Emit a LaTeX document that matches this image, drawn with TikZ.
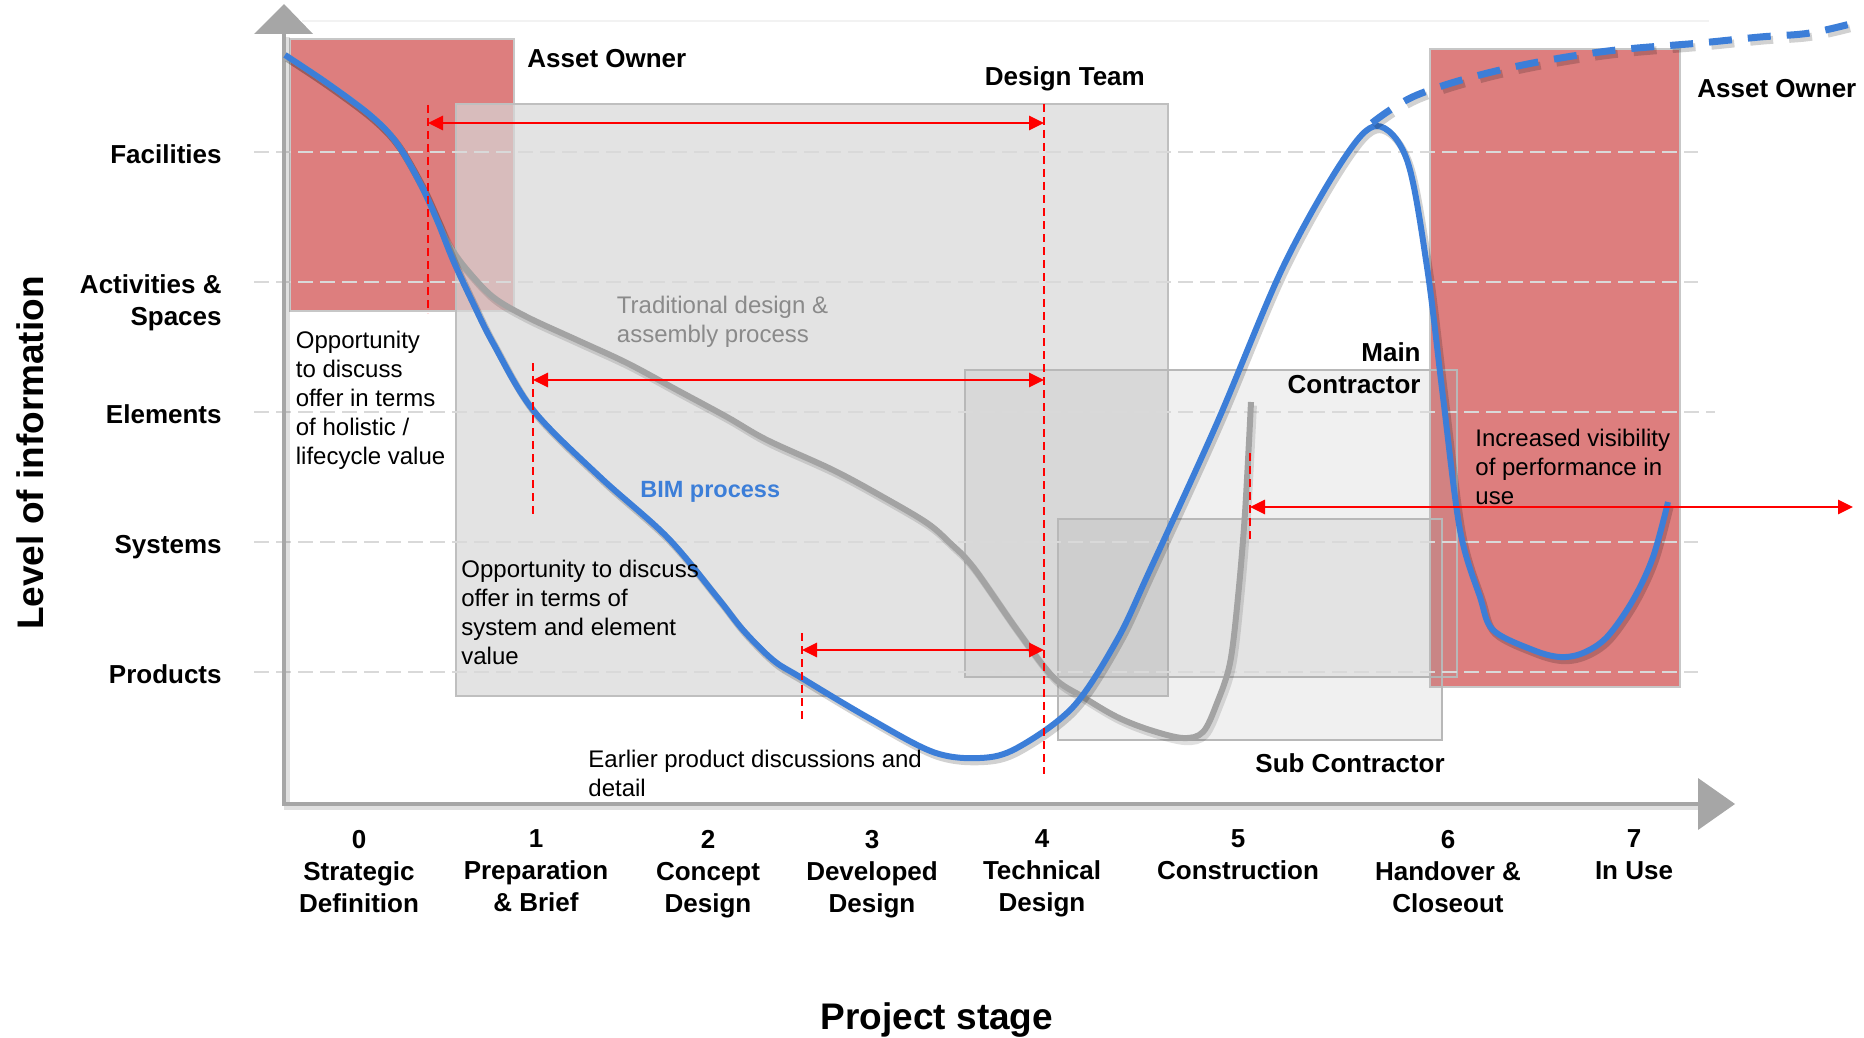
\documentclass[tikz,border=0pt]{standalone}
\usepackage{fontspec}
\setmainfont{Liberation Sans}
\usetikzlibrary{arrows.meta}
\usetikzlibrary{calc}

\definecolor{ownerRed}{RGB}{221,126,126}
\definecolor{teamGray}{RGB}{215,215,215}
\definecolor{gridGray}{RGB}{217,217,217}
\definecolor{axisGray}{RGB}{166,166,166}
\definecolor{tradGray}{RGB}{163,163,163}
\definecolor{bimBlue}{RGB}{60,126,216}
\definecolor{noteGray}{RGB}{138,138,138}

\begin{document}
\begin{tikzpicture}[x=0.5pt,y=-0.5pt]

\tikzstyle{ownerBox}=[fill=ownerRed,draw=black!22,line width=0.8pt];
\tikzstyle{teamBox}=[fill=teamGray,fill opacity=0.7,draw=black!25,line width=0.8pt];
\tikzstyle{tradeBox}=[fill=black!40,fill opacity=0.15,draw=black!28,line width=0.8pt];
\tikzstyle{gridLine}=[gridGray,line width=1pt,dash pattern=on 7.5pt off 3.5pt];
\tikzstyle{axisLine}=[axisGray,line width=2.25pt,preaction={draw=black,opacity=0.12,line width=3pt,transform canvas={xshift=1.5pt,yshift=-1.5pt}}];
\tikzstyle{bimCurve}=[bimBlue,line width=3pt,preaction={draw=black,opacity=0.18,line width=3.5pt,transform canvas={xshift=1.2pt,yshift=-1.8pt}}];
\tikzstyle{bimDashed}=[bimBlue,line width=3.5pt,dash pattern=on 11.5pt off 8pt,preaction={draw=black,opacity=0.18,line width=4pt,dash pattern=on 11.5pt off 8pt,transform canvas={xshift=1.2pt,yshift=-1.8pt}}];
\tikzstyle{tradCurve}=[tradGray,line width=3pt,preaction={draw=black,opacity=0.12,line width=3.5pt,transform canvas={xshift=1.2pt,yshift=-1.8pt}}];
\tikzstyle{markLine}=[red,line width=0.75pt,dash pattern=on 4pt off 2.5pt];
\tikzstyle{redArrow}=[red,line width=1.4pt,{Triangle[length=7.5pt,width=7pt]}-{Triangle[length=7.5pt,width=7pt]}];
\tikzstyle{levelLabel}=[font=\fontsize{13pt}{16pt}\selectfont\bfseries,inner sep=0pt];
\tikzstyle{stageLabel}=[levelLabel,align=center,anchor=north];
\tikzstyle{roleLabel}=[levelLabel,anchor=base west];
\tikzstyle{noteText}=[font=\fontsize{12pt}{14.5pt}\selectfont,align=left,anchor=north west,inner sep=0pt];
\tikzstyle{axisTitle}=[font=\fontsize{18.5pt}{22pt}\selectfont\bfseries,inner sep=0pt];

\useasboundingbox (0,0) rectangle (1864,1038);

% boxes
\draw [ownerBox] (290,39) rectangle (514,311);
\draw [teamBox] (456,104) rectangle (1168,696);
\draw [ownerBox] (1430,49) rectangle (1680,687);
\draw [tradeBox] (965,370) rectangle (1457,677);
\draw [tradeBox] (1058,519) rectangle (1442,740);

% level grid
\draw [black!5,line width=0.8pt] (302,21) -- (1709,21);
\foreach \y in {152,282,542,672}{
	\draw [gridLine] (254,\y) -- (1698,\y);
};
\draw [gridLine] (254,412) -- (1715,412);

% axes
\draw [axisLine] (284,34) -- (284,804) -- (1698,804);
\fill [axisGray] (254,34) -- (313,34) -- (284,4) -- cycle;
\fill [axisGray] (1698,778) -- (1698,830) -- (1735,804) -- cycle;

% traditional process
\draw [tradCurve] plot [smooth,tension=0.55] coordinates {(285,55) (327,83) (370,115) (396,142) (420,183) (437,220) (450,247) (467,270) (493,297) (527,317) (577,340) (627,363) (677,390) (727,417) (767,440) (833,470) (883,497) (927,523) (950,543) (973,567) (1017,630) (1053,677) (1083,697) (1117,717) (1150,730) (1183,738) (1203,732) (1217,703) (1230,663) (1238,597) (1245,513) (1251,402)};

% BIM process
\draw [bimCurve] plot [smooth,tension=0.55] coordinates {(285,55) (327,83) (370,115) (396,142) (420,183) (437,220) (453,260) (473,303) (493,343) (533,410) (600,477) (667,537) (717,597) (743,630) (773,660) (800,677) (867,717) (933,752) (980,758) (1017,748) (1073,707) (1117,640) (1150,570) (1217,423) (1283,267) (1343,160) (1377,126) (1407,160) (1427,267) (1443,397) (1460,530) (1480,597) (1493,630) (1533,650) (1560,657) (1583,653) (1607,637) (1633,600) (1653,557) (1668,502)};
\draw [bimDashed] plot [smooth,tension=0.6] coordinates {(1372,123) (1417,95) (1500,70) (1600,52) (1700,43) (1760,37) (1810,33) (1858,22)};

% opportunity markers
\coordinate (m1top) at (428,105);  \coordinate (m1bot) at (428,313);
\coordinate (m2top) at (1044,104); \coordinate (m2bot) at (1044,774);
\coordinate (m3top) at (533,363);  \coordinate (m3bot) at (533,518);
\coordinate (m4top) at (802,633);  \coordinate (m4bot) at (802,722);
\coordinate (m5top) at (1250,453); \coordinate (m5bot) at (1250,541);
\foreach \m in {1,...,5}{
	\draw [markLine] (m\m top) -- (m\m bot);
};

\coordinate (a1l) at (428,123);  \coordinate (a1r) at (1044,123);
\coordinate (a2l) at (533,380);  \coordinate (a2r) at (1044,380);
\coordinate (a3l) at (802,650);  \coordinate (a3r) at (1044,650);
\coordinate (a4l) at (1250,507); \coordinate (a4r) at (1853,507);
\foreach \a in {1,...,4}{
	\draw [redArrow] (a\a l) -- (a\a r);
};

% level labels
\node [levelLabel,anchor=base east] (facilities) at (222,163.5) {Facilities};
\node [levelLabel,anchor=north east,align=right] (activities) at (222,274.5) {Activities \&\\Spaces};
\node [levelLabel,anchor=base east] (elements) at (222,423.5) {Elements};
\node [levelLabel,anchor=base east] (systems) at (222,553.5) {Systems};
\node [levelLabel,anchor=base east] (products) at (222,683.5) {Products};

% stage labels
\foreach \x/\n/\txt in {359/0/Strategic\\Definition,536/1/Preparation\\\& Brief,708/2/Concept\\Design,872/3/Developed\\Design,1042/4/Technical\\Design,1238/5/Construction,1448/6/Handover \&\\Closeout,1634/7/In Use}{
	\node [stageLabel] (stage\n) at (\x,829.5) {\n\\\txt};
};

\node [axisTitle,rotate=90] (levelTitle) at (30,453) {Level of information};
\node [axisTitle,anchor=base] (stageTitle) at (937,1029) {Project stage};

% roles
\node [roleLabel] (ownerLeft) at (527,68) {Asset Owner};
\node [roleLabel] (designTeam) at (984.5,85.5) {Design Team};
\node [roleLabel] (ownerRight) at (1697,98) {Asset Owner};
\node [levelLabel,anchor=north east,align=right] (mainCon) at (1421,342.5) {Main\\Contractor};
\node [roleLabel] (subCon) at (1255,772.5) {Sub Contractor};

% notes
\node [noteText,text=noteGray] (tradNote) at (616.5,295.5) {Traditional design \&\\assembly process};
\node [noteText] (holisticNote) at (295.5,330.5) {Opportunity\\to discuss\\offer in terms\\of holistic /\\lifecycle value};
\node [noteText] (systemNote) at (461,559.5) {Opportunity to discuss\\offer in terms of\\system and element\\value};
\node [font=\fontsize{11.75pt}{14pt}\selectfont\bfseries,text=bimBlue,anchor=base west,inner sep=0pt] (bimNote) at (640,497.5) {BIM process};
\node [noteText] (productNote) at (588,749.5) {Earlier product discussions and\\detail};
\node [noteText] (useNote) at (1475,429) {Increased visibility\\of performance in\\use};

\end{tikzpicture}
\end{document}
